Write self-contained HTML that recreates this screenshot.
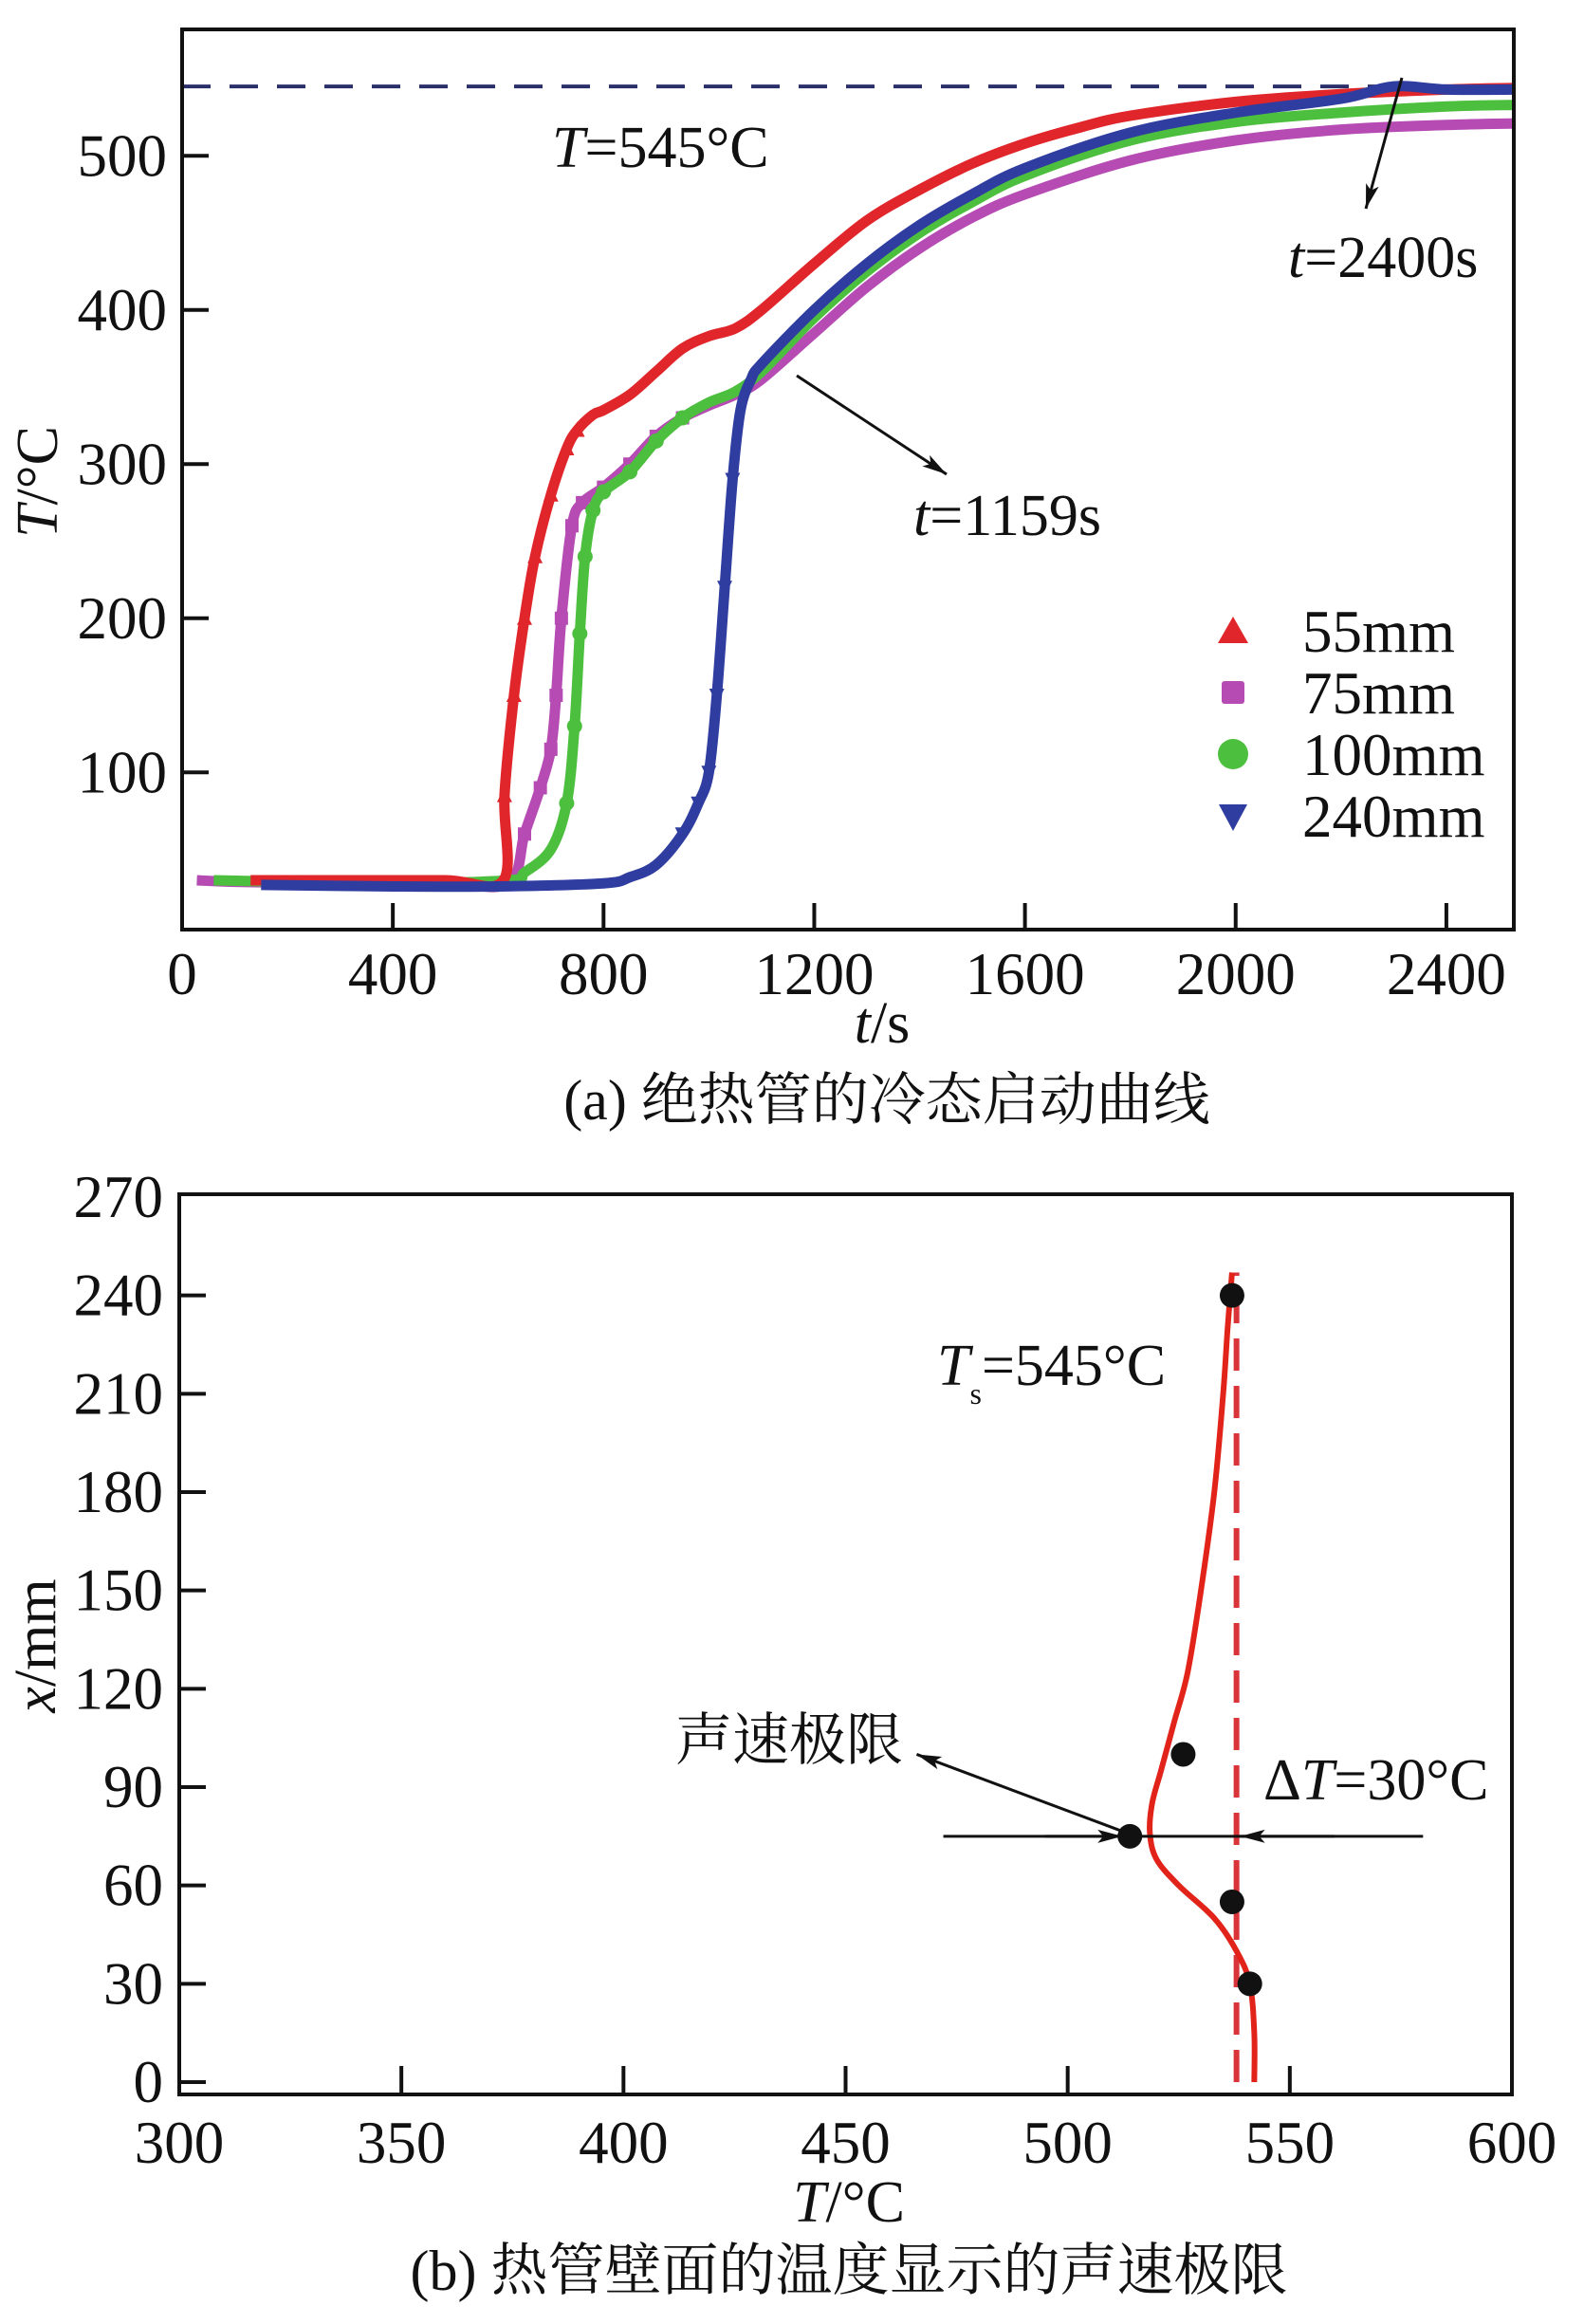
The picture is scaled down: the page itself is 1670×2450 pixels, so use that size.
<!DOCTYPE html>
<html><head><meta charset="utf-8"><style>
body{margin:0;background:#fff}
svg{display:block}
text{font-family:"Liberation Serif","Noto Serif CJK SC","Noto Sans CJK SC",serif;fill:#111}
</style></head><body>
<svg id="fig" width="1670" height="2450" viewBox="0 0 1670 2450">
<defs>
<marker id="ah2" markerWidth="26" markerHeight="18" refX="26" refY="9" orient="auto" markerUnits="userSpaceOnUse"><path d="M0,2 L26,9 L0,16 L6,9 z" fill="#111"/></marker>
</defs>
<g id="chartA"></g>
<g id="chartB"></g>
</svg>
<script>
// ---------- Chart (a) data ----------
const xTicksA = [0,400,800,1200,1600,2000,2400];
const yTicksA = [100,200,300,400,500];
const seriesNames = ["55mm","75mm","100mm","240mm"];
const t55 = [130,300,500,610,612,630,650,670,700,730,750,780,800,850,900,950,1000,1050,1100,1200,1300,1400,1500,1600,1700,1800,2000,2200,2400,2530];
const v55 = [30,30,30,30,85,150,200,240,280,310,322,332,335,345,360,375,383,388,400,430,458,478,495,508,518,526,535,540,543,544];
const t75 = [28,100,300,500,620,650,680,700,710,720,740,760,800,850,900,950,1000,1050,1100,1200,1300,1400,1500,1600,1800,2000,2200,2400,2530];
const v75 = [30,29,28,28,28,60,90,115,150,200,260,275,285,300,318,330,338,345,355,385,415,440,460,475,497,510,517,520,521];
const t100 = [60,200,400,620,650,700,730,745,755,765,780,800,850,900,950,1000,1050,1100,1200,1300,1400,1500,1600,1800,2000,2200,2400,2530];
const v100 = [30,29,28,30,35,50,80,130,190,240,270,282,295,315,330,340,347,360,395,425,450,470,487,510,522,528,532,533];
const t240 = [150,400,600,800,850,900,950,980,1000,1015,1030,1045,1060,1080,1100,1200,1300,1400,1500,1600,1800,2000,2200,2300,2400,2530];
const v240 = [27,26,26,28,32,40,60,80,100,150,220,290,335,355,365,400,430,455,475,492,515,528,537,545,543,543];
const colorsA = ["#e0262a","#b54bb3","#4dbf3e","#2f3da0"];

// ---------- Chart (b) data ----------
const xTicksB = [300,350,400,450,500,550,600];
const yTicksB = [0,30,60,90,120,150,180,210,240,270];
const pointT = [537,526,514,537,541];
const pointX = [240,100,75,55,30];
const curveT = [542,542,541,538,533,525,520,518.5,519,521,524,527,530,533,535,536,537];
const curveX = [0,15,30,40,50,60,68,76,85,95,110,125,150,180,210,230,247];
const tsat = 538;

const NS="http://www.w3.org/2000/svg";
function el(parent,tag,attrs,txt){const e=document.createElementNS(NS,tag);for(const k in attrs)e.setAttribute(k,attrs[k]);if(txt!==undefined)e.textContent=txt;parent.appendChild(e);return e;}
function smooth(p){let d=`M${p[0][0]},${p[0][1]}`;for(let i=0;i<p.length-1;i++){const p0=p[i-1]||p[i],p1=p[i],p2=p[i+1],p3=p[i+2]||p2;const c1=[p1[0]+(p2[0]-p0[0])/6,p1[1]+(p2[1]-p0[1])/6],c2=[p2[0]-(p3[0]-p1[0])/6,p2[1]-(p3[1]-p1[1])/6];d+=`C${c1[0]},${c1[1]} ${c2[0]},${c2[1]} ${p2[0]},${p2[1]}`;}return d;}

// ---------- draw chart A ----------
(function(){
const g=document.getElementById('chartA');
const L=192,R=1596,T=31,B=980;
const X=v=>L+(v-0)/(2528-0)*(R-L);
const Y=v=>B-(v-(-2))/(582-(-2))*(B-T);
const dl=el(g,'line',{x1:X(0),y1:Y(545),x2:X(2528),y2:Y(545),stroke:'#2a2f6a','stroke-width':4,'stroke-dasharray':'30 20'});


const ts=[t55,t75,t100,t240], vs=[v55,v75,v100,v240];
const order=[1,2,0,3];
order.forEach(i=>{
  const p=ts[i].map((t,j)=>[X(t),Y(vs[i][j])]);
  const pl=el(g,'path',{d:smooth(p),fill:'none',stroke:colorsA[i],'stroke-width':11,'stroke-linejoin':'round'});
  
  
  ts[i].forEach((t,j)=>{
    const v=vs[i][j]; if(v<60||v>330) return;
    const cx=X(t),cy=Y(v);
    let m;
    if(i===0) m=el(g,'path',{d:`M${cx},${cy-9}L${cx+8},${cy+7}L${cx-8},${cy+7}z`,fill:colorsA[0]});
    else if(i===1) m=el(g,'rect',{x:cx-7,y:cy-7,width:14,height:14,fill:colorsA[1]});
    else if(i===2) m=el(g,'circle',{cx:cx,cy:cy,r:8,fill:colorsA[2]});
    else m=el(g,'path',{d:`M${cx-8},${cy-7}L${cx+8},${cy-7}L${cx},${cy+9}z`,fill:colorsA[3]});
    
    
  });
});
const fr=el(g,'rect',{x:L,y:T,width:R-L,height:B-T,fill:'none',stroke:'#111','stroke-width':4});


xTicksA.forEach(v=>{
  if(v>0) el(g,'line',{x1:X(v),y1:B,x2:X(v),y2:B-28,stroke:'#111','stroke-width':4});
  const tx=el(g,'text',{x:X(v),y:1048,'font-size':63,'text-anchor':'middle'},String(v));
  
  
});
yTicksA.forEach(v=>{
  el(g,'line',{x1:L,y1:Y(v),x2:L+28,y2:Y(v),stroke:'#111','stroke-width':4});
  const tx=el(g,'text',{x:176,y:Y(v)+21,'font-size':63,'text-anchor':'end'},String(v));
  
  
});
const xt=el(g,'text',{x:930,y:1099,'font-size':62,'text-anchor':'middle'});
xt.innerHTML='<tspan font-style="italic">t</tspan>/s';


const yt=el(g,'text',{x:0,y:0,'font-size':62,'text-anchor':'middle',transform:'translate(60,508) rotate(-90)'});
yt.innerHTML='<tspan font-style="italic">T</tspan>/°C';


const cap=el(g,'text',{x:935,y:1180,'font-size':60,'text-anchor':'middle'},'(a) 绝热管的冷态启动曲线');


const a1=el(g,'text',{x:582,y:176,'font-size':62});
a1.innerHTML='<tspan font-style="italic">T</tspan>=545°C';


const a2=el(g,'text',{x:1358,y:292,'font-size':62});
a2.innerHTML='<tspan font-style="italic">t</tspan>=2400s';


const ar2=el(g,'line',{x1:1478,y1:82,x2:1440,y2:220,stroke:'#111','stroke-width':3,'marker-end':'url(#ah2)'});


const a3=el(g,'text',{x:963,y:564,'font-size':62});
a3.innerHTML='<tspan font-style="italic">t</tspan>=1159s';


const ar3=el(g,'line',{x1:840,y1:396,x2:998,y2:500,stroke:'#111','stroke-width':3,'marker-end':'url(#ah2)'});


const ly=[665,730,795,860];
seriesNames.forEach((n,i)=>{
  const cx=1300,cy=ly[i];
  let m;
  if(i===0) m=el(g,'path',{d:`M${cx},${cy-15}L${cx+16},${cy+13}L${cx-16},${cy+13}z`,fill:colorsA[0]});
  else if(i===1) m=el(g,'rect',{x:cx-12,y:cy-12,width:24,height:24,rx:3,fill:colorsA[1]});
  else if(i===2) m=el(g,'circle',{cx:cx,cy:cy,r:16,fill:colorsA[2]});
  else m=el(g,'path',{d:`M${cx-15},${cy-12}L${cx+15},${cy-12}L${cx},${cy+16}z`,fill:colorsA[3]});
  
  
  const tx=el(g,'text',{x:1373,y:cy+22,'font-size':63},n);
  
  
});
})();

// ---------- draw chart B ----------
(function(){
const g=document.getElementById('chartB');
const L=189,R=1594,T=1259,B=2208;
const X=v=>L+(v-300)/(600-300)*(R-L);
const Y=v=>2195-(v-0)/(270-0)*(2195-1262);
const fr=el(g,'rect',{x:L,y:T,width:R-L,height:B-T,fill:'none',stroke:'#111','stroke-width':4});


xTicksB.forEach(v=>{
  if(v>300&&v<600) el(g,'line',{x1:X(v),y1:B,x2:X(v),y2:B-30,stroke:'#111','stroke-width':4});
  const tx=el(g,'text',{x:X(v),y:2280,'font-size':63,'text-anchor':'middle'},String(v));
  
  
});
yTicksB.forEach(v=>{
  if(v<270) el(g,'line',{x1:L,y1:Y(v),x2:L+28,y2:Y(v),stroke:'#111','stroke-width':4});
  const tx=el(g,'text',{x:172,y:Y(v)+21,'font-size':63,'text-anchor':'end'},String(v));
  
  
});
const ds=el(g,'line',{x1:X(tsat),y1:Y(0),x2:X(tsat),y2:Y(247),stroke:'#d8343a','stroke-width':6,'stroke-dasharray':'34 16'});


const p=curveT.map((t,j)=>[X(t),Y(curveX[j])]);
const cv=el(g,'path',{d:smooth(p),fill:'none',stroke:'#e2231a','stroke-width':6,'stroke-linejoin':'round'});


const hl=el(g,'line',{x1:X(472),y1:Y(75),x2:X(580),y2:Y(75),stroke:'#111','stroke-width':3});


const aL=el(g,'line',{x1:X(495),y1:Y(75),x2:X(514)-8,y2:Y(75),stroke:'#111','stroke-width':3,'marker-end':'url(#ah2)'});


const aR=el(g,'line',{x1:X(560),y1:Y(75),x2:X(tsat)+4,y2:Y(75),stroke:'#111','stroke-width':3,'marker-end':'url(#ah2)'});


pointT.forEach((t,j)=>{
  const c=el(g,'circle',{cx:X(t),cy:Y(pointX[j]),r:13,fill:'#111'});
  
  
});
const sa=el(g,'line',{x1:X(514)-10,y1:Y(75)-6,x2:X(466),y2:Y(100),stroke:'#111','stroke-width':3,'marker-end':'url(#ah2)'});


const sl=el(g,'text',{x:712,y:1855,'font-size':60},'声速极限');


const dt=el(g,'text',{x:1332,y:1897,'font-size':62});
dt.innerHTML='Δ<tspan font-style="italic">T</tspan>=30°C';


const tsl=el(g,'text',{x:988,y:1460,'font-size':62});
tsl.innerHTML='<tspan font-style="italic">T</tspan><tspan font-size="32" dy="20">s</tspan><tspan dy="-20">=545°C</tspan>';


const xt=el(g,'text',{x:895,y:2342,'font-size':62,'text-anchor':'middle'});
xt.innerHTML='<tspan font-style="italic">T</tspan>/°C';


const yt=el(g,'text',{x:0,y:0,'font-size':62,'text-anchor':'middle',transform:'translate(58,1735) rotate(-90)'});
yt.innerHTML='<tspan font-style="italic">x</tspan>/mm';


const cap=el(g,'text',{x:895,y:2414,'font-size':60,'text-anchor':'middle'},'(b) 热管壁面的温度显示的声速极限');


})();
</script>
</body></html>
